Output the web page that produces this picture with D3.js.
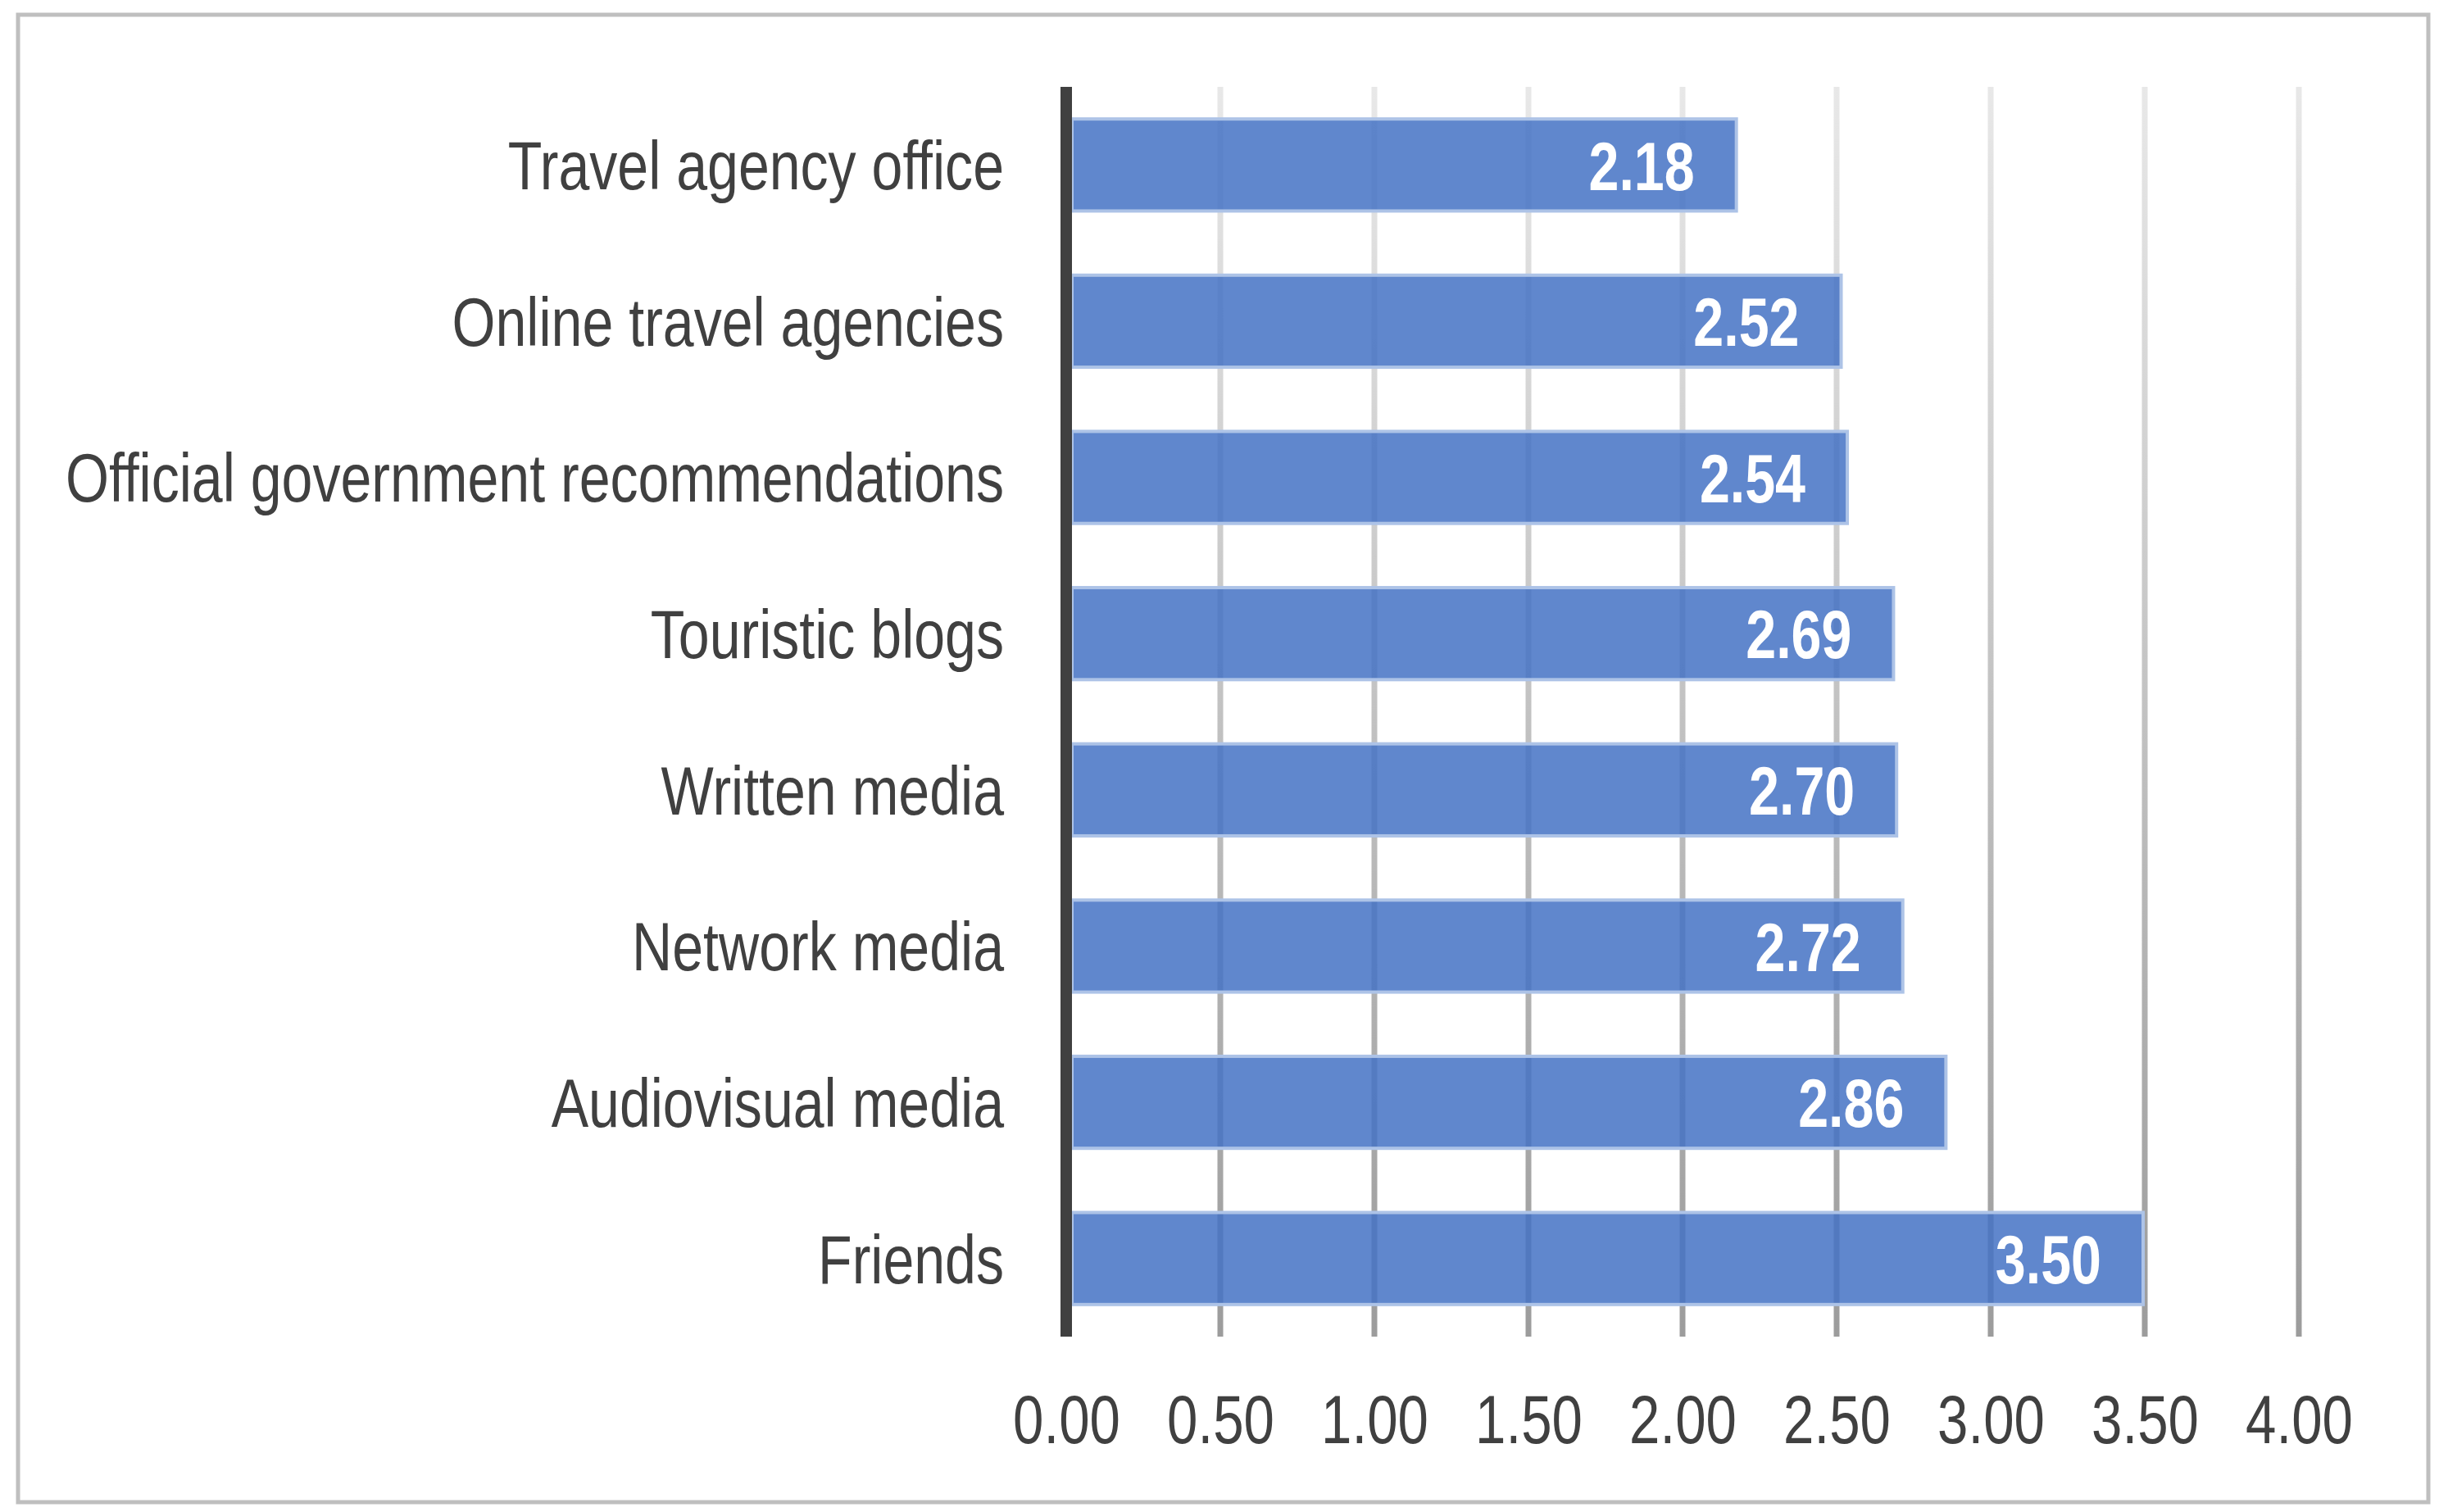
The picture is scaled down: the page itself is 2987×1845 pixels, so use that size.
<!DOCTYPE html>
<html>
<head>
<meta charset="utf-8">
<script src="https://cdn.jsdelivr.net/npm/d3@7"></script>
<style>
  html, body { margin: 0; padding: 0; background: #fff; }
  svg { display: block; }
</style>
</head>
<body>
<div id="chart"></div>
<script>
// Data
const categories = [
  'Travel agency office',
  'Online travel agencies',
  'Official government recommendations',
  'Touristic blogs',
  'Written media',
  'Network media',
  'Audiovisual media',
  'Friends'
];
const values = [2.18, 2.52, 2.54, 2.69, 2.70, 2.72, 2.86, 3.50];
const xTicks = [0, 0.5, 1, 1.5, 2, 2.5, 3, 3.5, 4];

const width = 2987;
const height = 1845;
const margin = { top: 106, right: 182, bottom: 214, left: 1301 };
const FONT = "'Liberation Sans', Arial, sans-serif";
const textColor = '#404040';

// No narrow font installed: squeeze the glyphs horizontally instead
function narrow(selection, factor) {
  selection.each(function() {
    const len = this.getComputedTextLength();
    this.setAttribute('textLength', len * factor);
    this.setAttribute('lengthAdjust', 'spacingAndGlyphs');
  });
}

const svg = d3.select('#chart').append('svg')
  .attr('width', width)
  .attr('height', height)
  .attr('viewBox', [0, 0, width, height])
  .style('font-family', FONT);

svg.append('rect')
  .attr('width', width).attr('height', height)
  .attr('fill', '#fff');

// Outer chart border
svg.append('rect')
  .attr('x', 22).attr('y', 18)
  .attr('width', 2941).attr('height', 1815)
  .attr('fill', 'none')
  .attr('stroke', '#bfbfbf')
  .attr('stroke-width', 5);

const x = d3.scaleLinear()
  .domain([0, 4])
  .range([margin.left, width - margin.right]);

const y = d3.scaleBand()
  .domain(categories)
  .range([margin.top, height - margin.bottom])
  .paddingInner(0.39)
  .paddingOuter(0.195);

// Gridlines fade from light at the top to darker at the bottom
const defs = svg.append('defs');
const grad = defs.append('linearGradient')
  .attr('id', 'gridFade')
  .attr('gradientUnits', 'userSpaceOnUse')
  .attr('x1', 0).attr('y1', margin.top)
  .attr('x2', 0).attr('y2', height - margin.bottom);
grad.append('stop').attr('offset', '0%').attr('stop-color', '#e8e8e8');
grad.append('stop').attr('offset', '100%').attr('stop-color', '#9c9c9c');

svg.append('g')
  .selectAll('line')
  .data(xTicks.filter(d => d > 0))
  .join('line')
  .attr('x1', d => x(d)).attr('x2', d => x(d))
  .attr('y1', margin.top).attr('y2', height - margin.bottom)
  .attr('stroke', 'url(#gridFade)')
  .attr('stroke-width', 7);

// Bars (slightly transparent so gridlines show through)
svg.append('g')
  .selectAll('rect')
  .data(categories)
  .join('rect')
  .attr('x', x(0) + 7)
  .attr('y', d => y(d) + 2)
  .attr('width', (d, i) => x(values[i]) - x(0) - 9)
  .attr('height', y.bandwidth() - 4)
  .attr('fill', '#4472c4')
  .attr('fill-opacity', 0.85)
  .attr('stroke', '#adc3e7')
  .attr('stroke-width', 4);

// Value labels inside bar ends
svg.append('g')
  .selectAll('text')
  .data(categories)
  .join('text')
  .attr('x', (d, i) => x(values[i]) - 53)
  .attr('y', d => y(d) + y.bandwidth() / 2)
  .attr('dy', '0.36em')
  .attr('text-anchor', 'end')
  .attr('font-size', 84)
  .attr('font-weight', 'bold')
  .attr('fill', '#fff')
  .text((d, i) => values[i].toFixed(2))
  .call(narrow, 0.79);

// Category labels
const yAxis = svg.append('g')
  .attr('transform', `translate(${margin.left},0)`)
  .call(d3.axisLeft(y).tickSize(0).tickPadding(76));
yAxis.select('.domain').remove();
yAxis.selectAll('text')
  .attr('font-family', FONT)
  .attr('font-size', 83)
  .attr('fill', textColor)
  .attr('dy', '0.36em')
  .call(narrow, 0.82);

// Value axis tick labels
const xAxis = svg.append('g')
  .attr('transform', `translate(0,${height - margin.bottom})`)
  .call(d3.axisBottom(x).tickValues(xTicks).tickFormat(d3.format('.2f')).tickSize(0).tickPadding(0));
xAxis.select('.domain').remove();
xAxis.selectAll('text')
  .attr('font-family', FONT)
  .attr('font-size', 84)
  .attr('fill', textColor)
  .attr('dy', 0)
  .attr('y', 130)
  .call(narrow, 0.8);

// Category axis line
svg.append('line')
  .attr('x1', x(0)).attr('x2', x(0))
  .attr('y1', margin.top).attr('y2', height - margin.bottom)
  .attr('stroke', textColor)
  .attr('stroke-width', 14);
</script>
</body>
</html>
